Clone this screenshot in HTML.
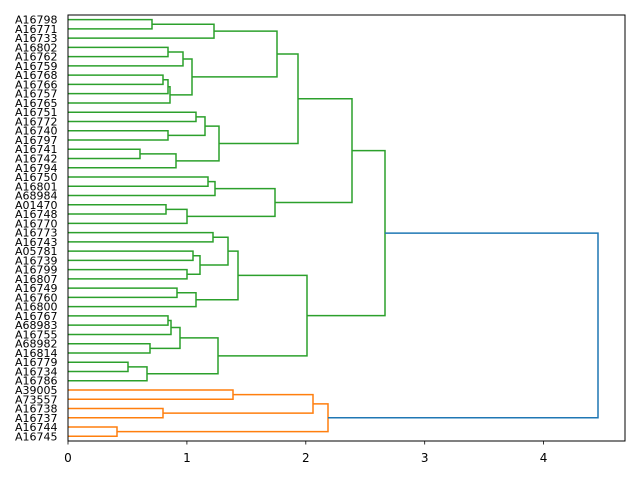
<!DOCTYPE html>
<html><head><meta charset="utf-8"><style>body{margin:0;background:#fff}svg{display:block;font-family:"DejaVu Sans","Liberation Sans",sans-serif}</style></head>
<body>
<svg id="s" width="640" height="480" xmlns="http://www.w3.org/2000/svg"></svg>
<script>
var s=document.getElementById('s');
var labels=["A16798","A16771","A16733","A16802","A16762","A16759","A16768","A16766","A16757","A16765","A16751","A16772","A16740","A16797","A16741","A16742","A16794","A16750","A16801","A68984","A01470","A16748","A16770","A16773","A16743","A05781","A16739","A16799","A16807","A16749","A16760","A16800","A16767","A68983","A16755","A68982","A16814","A16779","A16734","A16786","A39005","A73557","A16738","A16737","A16744","A16745"];
function ly(i){return 19.6+9.26*i;}
var X0=68,h='';
var A=[277,[214,[152,0,1],2],[192,[183,[168,3,4],5],[170,[168,[163,6,7],8],9]]];
var B=[219,[205,[196,10,11],[168,12,13]],[176,[140,14,15],16]];
var C=[298,A,B];
var D=[275,[215,[208,17,18],19],[187,[166,20,21],22]];
var E=[352,C,D];
var F=[238,[228,[213,23,24],[200,[193,25,26],[187,27,28]]],[196,[177,29,30],31]];
var G=[218,[180,[171,[168,32,33],34],[150,35,36]],[147,[128,37,38],39]];
var H=[307,F,G];
var I=[385,E,H];
var O=[328,[313,[233,40,41],[163,42,43]],[117,44,45]];
function draw(n,col){
 if(typeof n==='number')return [X0,ly(n)];
 var a=draw(n[1],col),b=draw(n[2],col),x=n[0];
 h+='<path d="M'+a[0]+' '+a[1]+'H'+x+'V'+b[1]+'H'+b[0]+'" fill="none" stroke="'+col+'" stroke-width="1.5"/>';
 return [x,(a[1]+b[1])/2];
}
var i1=draw(I,'#2ca02c'),o1=draw(O,'#ff7f0e');
h+='<path d="M'+i1[0]+' '+i1[1]+'H598V'+o1[1]+'H'+o1[0]+'" fill="none" stroke="#1f77b4" stroke-width="1.5"/>';
h+='<rect x="68" y="15" width="557" height="426" fill="none" stroke="#000" stroke-width="1"/>';
for(var i=0;i<46;i++){var y=ly(i);h+='<text x="57.5" y="'+(y+4)+'" font-size="11" text-anchor="end">'+labels[i]+'</text>';}
for(var k=0;k<5;k++){var x=68+118.9*k;h+='<line x1="'+x+'" x2="'+x+'" y1="441" y2="444.5" stroke="#000" stroke-width="0.8"/><text x="'+x+'" y="462" font-size="12" text-anchor="middle">'+k+'</text>';}
s.innerHTML=h;
</script>
</body></html>
